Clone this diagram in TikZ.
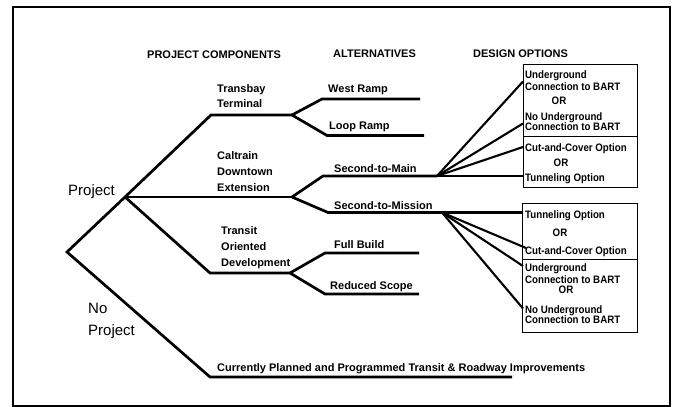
\documentclass[tikz,border=0pt]{standalone}
\usepackage{fontspec}
\setmainfont{Liberation Sans}
\newfontfamily\narrowfont[FakeStretch=0.9]{Liberation Sans}
\begin{document}
\begin{tikzpicture}[x=1pt,y=-1pt,
  branch/.style={line width=2.7pt},
  fan/.style={line width=2.1pt},
  optbox/.style={draw,line width=1pt,inner sep=0pt,anchor=north west},
  lbl/.style={font=\bfseries\fontsize{11}{13}\selectfont,anchor=base west,inner sep=0pt},
  head/.style={font=\bfseries\fontsize{11}{13}\selectfont,anchor=base west,inner sep=0pt},
  big/.style={font=\fontsize{15}{18}\selectfont,anchor=base west,inner sep=0pt},
  opt/.style={font=\narrowfont\bfseries\fontsize{10.8}{12}\selectfont,anchor=base west,inner sep=0pt},
  ortxt/.style={font=\narrowfont\bfseries\fontsize{10.8}{12}\selectfont,anchor=base,inner sep=0pt}]
\useasboundingbox (0,0) rectangle (673,407);
\draw[line width=2pt] (13,7) rectangle (670,405.5);

% headers
\node[head] (hpc) at (147,58) {PROJECT COMPONENTS};
\node[head] (halt) at (333,57) {ALTERNATIVES};
\node[head] (hdo) at (473,57) {DESIGN OPTIONS};

% junction coordinates
\coordinate (root) at (67,252);
\coordinate (proj) at (125,197);
\coordinate (tbA) at (211,115);
\coordinate (tbB) at (292,115);
\coordinate (ctB) at (292,197);
\coordinate (todA) at (210,273);
\coordinate (todB) at (290,273);
\coordinate (npA) at (210,377);
\coordinate (npB) at (512,377);
\coordinate (wrA) at (322,99);
\coordinate (wrB) at (420,99);
\coordinate (lrA) at (327,135.5);
\coordinate (lrB) at (424,135.5);
\coordinate (smA) at (323,176);
\coordinate (smF) at (437,176);
\coordinate (smB) at (523,176);
\coordinate (snA) at (328,212.5);
\coordinate (snF) at (442,212.5);
\coordinate (snB) at (523,212.5);
\coordinate (fbA) at (325,253);
\coordinate (fbB) at (419,253);
\coordinate (rsA) at (325,294);
\coordinate (rsB) at (419,294);
\coordinate (f1) at (523,81.5);
\coordinate (f2) at (523,123.5);
\coordinate (f3) at (523,147);
\coordinate (f4) at (526,248);
\coordinate (f5) at (523,266);
\coordinate (f6) at (523,308.5);

% option boxes
\node[optbox,minimum width=114pt,minimum height=72pt] (b1) at (523,64) {};
\node[optbox,minimum width=114pt,minimum height=51pt] (b2) at (523,136) {};
\node[optbox,minimum width=115pt,minimum height=56pt] (b3) at (522,203) {};
\node[optbox,minimum width=115pt,minimum height=73pt] (b4) at (522,259) {};

% tree
\draw[branch] (npB) -- (npA) -- (root) -- (proj) -- (tbA) -- (tbB);
\draw[branch] (proj) -- (ctB);
\draw[branch] (proj) -- (todA) -- (todB);
\draw[branch] (tbB) -- (wrA) -- (wrB);
\draw[branch] (tbB) -- (lrA) -- (lrB);
\draw[branch] (ctB) -- (smA) -- (smF);
\draw[branch] (ctB) -- (snA) -- (snF);
\draw[branch] (todB) -- (fbA) -- (fbB);
\draw[branch] (todB) -- (rsA) -- (rsB);

% fans
\draw[fan] (smF) -- (smB);
\draw[fan] (smF) -- (f1);
\draw[fan] (smF) -- (f2);
\draw[fan] (smF) -- (f3);
\draw[fan] (snF) -- (snB);
\draw[fan] (snF) -- (f4);
\draw[fan] (snF) -- (f5);
\draw[fan] (snF) -- (f6);

% labels
\node[big] (lproj) at (68,195) {Project};
\node[big] (lno1) at (88,313) {No};
\node[big] (lno2) at (88,335) {Project};
\node[lbl] (ltb1) at (217,92) {Transbay};
\node[lbl] (ltb2) at (217,107) {Terminal};
\node[lbl] (lct1) at (217,159) {Caltrain};
\node[lbl] (lct2) at (217,175) {Downtown};
\node[lbl] (lct3) at (217,191) {Extension};
\node[lbl] (ltod1) at (221,234) {Transit};
\node[lbl] (ltod2) at (221,250) {Oriented};
\node[lbl] (ltod3) at (221,266) {Development};
\node[lbl] (lcur) at (217,371) {Currently Planned and Programmed Transit \& Roadway Improvements};
\node[lbl] (lwr) at (328,92.5) {West Ramp};
\node[lbl] (llr) at (329,129) {Loop Ramp};
\node[lbl] (lsm) at (334,172) {Second-to-Main};
\node[lbl] (lsn) at (334,209) {Second-to-Mission};
\node[lbl] (lfb) at (334,248) {Full Build};
\node[lbl] (lrs) at (330,289) {Reduced Scope};

% box texts
\node[opt] (t11) at (525,78) {Underground};
\node[opt] (t12) at (525,90) {Connection to BART};
\node[ortxt] (t13) at (559,104) {OR};
\node[opt] (t14) at (525,120) {No Underground};
\node[opt] (t15) at (525,130.5) {Connection to BART};
\node[opt] (t21) at (525,151) {Cut-and-Cover Option};
\node[ortxt] (t22) at (561,166) {OR};
\node[opt] (t23) at (525,181) {Tunneling Option};
\node[opt] (t31) at (525,218) {Tunneling Option};
\node[ortxt] (t32) at (560,236) {OR};
\node[opt] (t33) at (525,254) {Cut-and-Cover Option};
\node[opt] (t41) at (525,271) {Underground};
\node[opt] (t42) at (525,283) {Connection to BART};
\node[ortxt] (t43) at (566,293.5) {OR};
\node[opt] (t44) at (525,313) {No Underground};
\node[opt] (t45) at (525,323.5) {Connection to BART};
\end{tikzpicture}
\end{document}
